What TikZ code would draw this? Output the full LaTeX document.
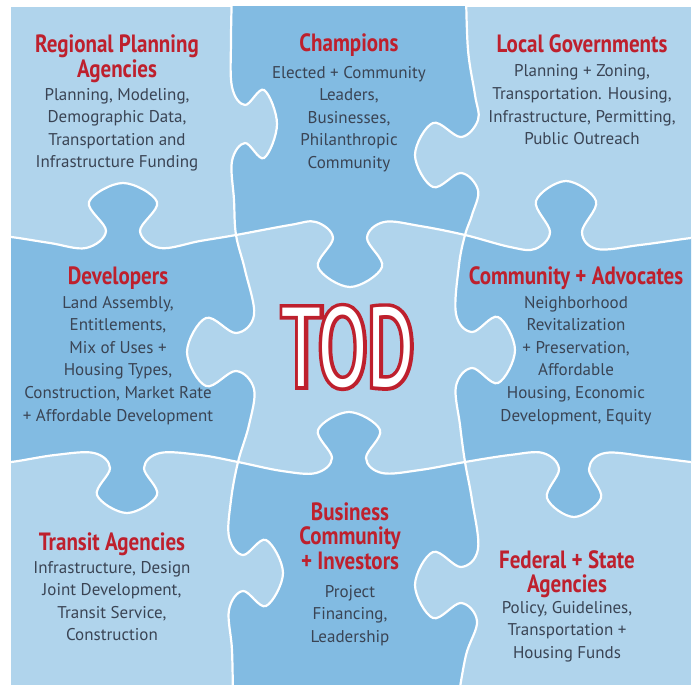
\documentclass[tikz,border=0pt]{standalone}
\usepackage{fontspec}
\setmainfont{PT Sans}
\newfontfamily\bodyfont{PT Sans}
\newfontfamily\titlefont[FakeStretch=0.84]{PT Sans}
\newfontfamily\todfont[FakeStretch=0.64]{PT Sans}
\newfontfamily\todrim[FakeStretch=0.64,FakeBold=6.5]{PT Sans}
\definecolor{pzlight}{RGB}{176,212,236}
\definecolor{pzdark}{RGB}{130,187,226}
\definecolor{tred}{RGB}{190,32,45}
\definecolor{tbody}{RGB}{58,68,84}
\tikzset{
  ttl/.style={anchor=base, inner sep=0pt, text=tred, font=\titlefont\bfseries\fontsize{25}{25}\selectfont},
  bdy/.style={anchor=base, inner sep=0pt, text=tbody, font=\bodyfont\fontsize{17}{20}\selectfont},
  todtxt/.style={anchor=center, inner sep=0pt, text=white, font=\todfont\fontsize{112}{112}\selectfont},
  todback/.style={anchor=center, inner sep=0pt, text=tred, font=\todrim\fontsize{112}{112}\selectfont},
  seam/.style={draw=white, line width=2.2pt, fill=pzdark, even odd rule},
  crv/.style={smooth, tension=0.6}
}
\newcommand\piecetext[6]{%
  \foreach \txt [count=\i] in {#4} {\node[ttl] (#1t\i) at (#2,{#3+24.5*(\i-1)}) {\txt};}
  \foreach \txt [count=\i] in {#6} {\node[bdy] (#1b\i) at (#2,{#5+22.6*(\i-1)}) {\txt};}
}
\begin{document}
\begin{tikzpicture}[x=1pt,y=-1pt]
\useasboundingbox (0,0) rectangle (696,685);
\fill[white] (0,0) rectangle (696,685);
\begin{scope}
\clip (11,7) rectangle (691,685);
\fill[pzlight] (11,7) rectangle (691,685);
\path[seam]
  plot[crv] coordinates {(232,-10) (231,40) (232,87) (245,105) (264,90) (277,124) (264,158) (245,143) (232,161) (234,200) (236,235) (245,270) (254,315) (236,333) (206,318) (187,352) (206,386) (236,371) (254,389) (249,425) (238,462) (231,500) (229,537) (243,555) (266,540) (283,573) (266,606) (243,591) (229,610) (232,650) (233,700)}
  -- (-10,700) -- (-10,-10) -- cycle
  plot[crv] coordinates {(466,-10) (468,50) (475,95) (478,120) (461,137) (433,123) (415,155) (433,187) (461,173) (478,190) (472,215) (465,235) (459,265) (456,314) (472,332) (498,317) (515,350) (498,383) (472,368) (456,386) (460,425) (465,462) (472,500) (478,549) (461,567) (433,552) (415,585) (433,618) (461,603) (477,621) (466,655) (458,700)}
  -- (-10,700) -- (-10,-10) -- cycle
  plot[crv] coordinates {(-10,236) (11,237) (50,243) (86,248) (106,231) (89,202) (123,183) (157,202) (140,231) (160,248) (200,241) (236,235) (290,225) (316,222) (333,238) (318,267) (350,287) (382,267) (367,238) (384,222) (420,226) (465,235) (510,247) (535,249) (550,232) (536,201) (566,181) (596,201) (582,232) (597,249) (640,245) (691,238) (710,237)}
  -- (710,-10) -- (-10,-10) -- cycle
  plot[crv] coordinates {(-10,462) (11,462) (55,455) (94,453) (110,468) (97,495) (127,513) (157,495) (144,468) (160,453) (200,455) (238,462) (282,471) (316,473) (332,458) (318,430) (349,412) (380,430) (366,458) (382,473) (420,470) (465,462) (510,455) (543,453) (559,469) (547,498) (574,517) (601,498) (589,469) (605,453) (650,457) (691,462) (710,463)}
  -- (710,-10) -- (-10,-10) -- cycle;
\end{scope}
\piecetext{reg}{117}{53}{Regional Planning, Agencies}{100}{{Planning, Modeling,},{Demographic Data,},Transportation and,Infrastructure Funding}
\piecetext{cha}{349}{52}{Champions}{78}{Elected + Community,{Leaders,},{Businesses,},Philanthropic,Community}
\piecetext{loc}{582}{53}{Local Governments}{77}{{Planning + Zoning,},{Transportation. Housing,},{Infrastructure, Permitting,},Public Outreach}
\piecetext{dev}{118}{284}{Developers}{308}{{Land Assembly,},{Entitlements,},Mix of Uses +,{Housing Types,},{Construction, Market Rate},+ Affordable Development}
\piecetext{com}{576}{284}{Community + Advocates}{308}{Neighborhood,Revitalization,{+ Preservation,},Affordable,{Housing, Economic},{Development, Equity}}
\piecetext{tra}{112}{550}{Transit Agencies}{573}{{Infrastructure, Design},{Joint Development,},{Transit Service,},Construction}
\piecetext{bus}{350}{520}{Business,Community,+ Investors}{597}{Project,{Financing,},Leadership}
\piecetext{fed}{567}{568}{Federal + State,Agencies}{613}{{Policy, Guidelines,},Transportation +,Housing Funds}
\node[todback] (todrim) at (348,347) {TOD};
\node[todtxt] (tod) at (todrim.center) {TOD};
\end{tikzpicture}
\end{document}
